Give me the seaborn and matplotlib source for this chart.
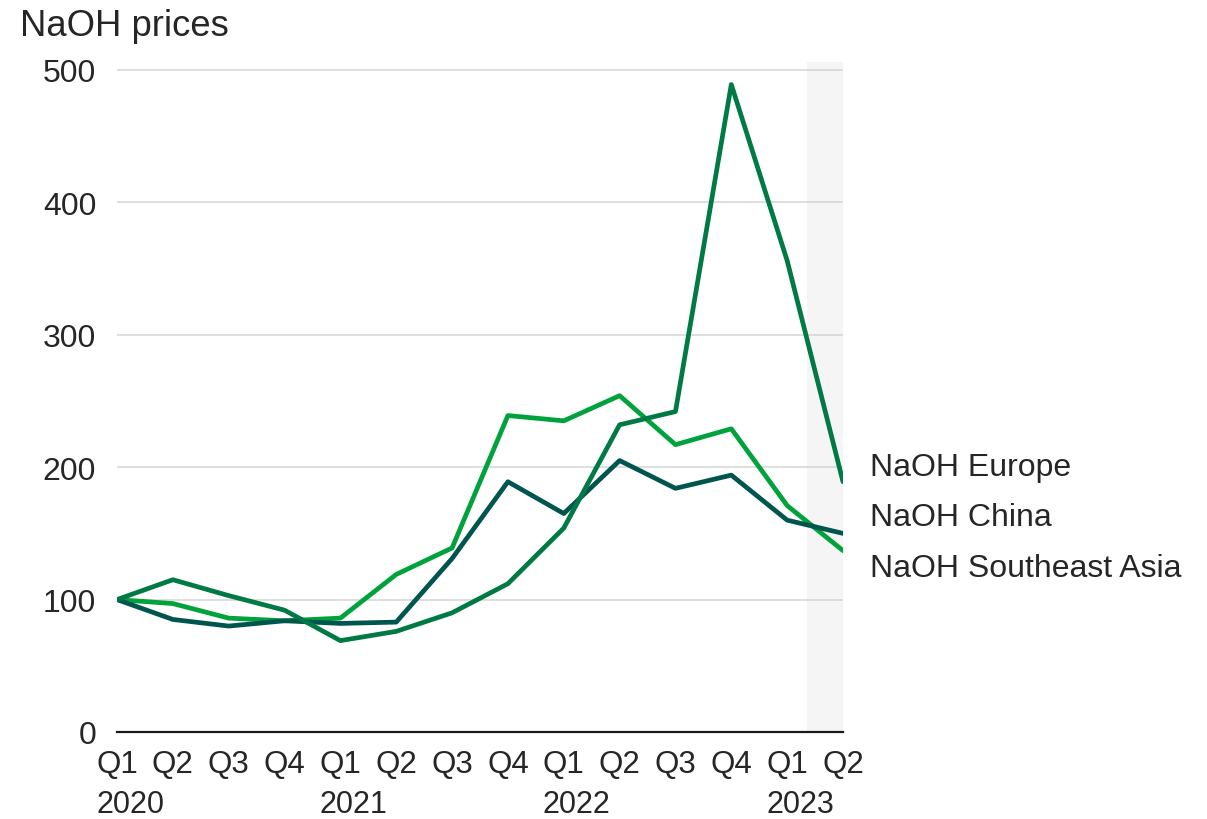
import matplotlib
matplotlib.use("Agg")
import matplotlib.pyplot as plt
import matplotlib.transforms as mtransforms
import numpy as np
import pandas as pd
import seaborn as sns

# Quarterly index values (Q1 2020 = 100)
quarters = ["Q1", "Q2", "Q3", "Q4", "Q1", "Q2", "Q3", "Q4",
            "Q1", "Q2", "Q3", "Q4", "Q1", "Q2"]
years = ["2020", "2021", "2022", "2023"]
europe = [100, 115, 103, 92, 69, 76, 90, 112, 154, 232, 242, 489, 356, 189]
southeast_asia = [100, 97, 86, 84, 86, 119, 139, 239, 235, 254, 217, 229, 171, 137]
china = [100, 85, 80, 84, 82, 83, 131, 189, 165, 205, 184, 194, 160, 150]

series_names = ["NaOH Southeast Asia", "NaOH China", "NaOH Europe"]
series_values = [southeast_asia, china, europe]
colors = {"NaOH Europe": "#007A44", "NaOH Southeast Asia": "#00A23C",
          "NaOH China": "#00554F"}

rows = []
for name, vals in zip(series_names, series_values):
    for i, v in enumerate(vals):
        rows.append({"idx": i, "value": v, "series": name})
df = pd.DataFrame(rows)

sns.set_theme(style="white")
plt.rcParams["font.family"] = ["Liberation Sans", "DejaVu Sans"]
text_color = "#262626"

fig = plt.figure(figsize=(12.07, 8.20), dpi=100)
ax = fig.add_axes([117 / 1207, 1 - 733 / 820, 726 / 1207, 670 / 820])

# Shaded latest-period band
ax.axvspan(12.35, 13, color="#F5F5F5", zorder=0, lw=0)

for y in [100, 200, 300, 400, 500]:
    ax.axhline(y, color="#D4D4D4", lw=1.1, zorder=1)

sns.lineplot(data=df, x="idx", y="value", hue="series", hue_order=series_names,
             palette=colors, linewidth=3.4, ax=ax, legend=False, zorder=3)

ax.set_xlim(0, 13)
ax.set_ylim(0, 506)
ax.set_xlabel("")
ax.set_ylabel("")
for side in ["top", "right", "left"]:
    ax.spines[side].set_visible(False)
ax.spines["bottom"].set_color("#1a1a1a")
ax.spines["bottom"].set_linewidth(1.6)
ax.spines["bottom"].set_zorder(4)

ax.set_yticks([0, 100, 200, 300, 400, 500])
ax.set_yticklabels(["0", "100", "200", "300", "400", "500"])
ax.tick_params(axis="y", length=0, pad=15, labelsize=23, labelcolor=text_color)
ax.set_xticks(range(len(quarters)))
ax.set_xticklabels(quarters)
ax.tick_params(axis="x", length=0, pad=12.5, labelsize=22.5, labelcolor=text_color)

# Year labels under each Q1, left-aligned with the quarter text
year_pos = [0, 4, 8, 12]
offset = mtransforms.ScaledTranslation(-21 / 100, 0, fig.dpi_scale_trans)
trans = mtransforms.blended_transform_factory(ax.transData, ax.transAxes) + offset
for x, yr in zip(year_pos, years):
    ax.text(x, -72 / 670, yr, transform=trans, ha="left", va="center",
            fontsize=22, color=text_color)

# Series labels at the right end
label_y = [200, 162, 124]
label_txt = ["NaOH Europe", "NaOH China", "NaOH Southeast Asia"]
for y, t in zip(label_y, label_txt):
    ax.annotate(t, xy=(13, y), xytext=(19.5, 0), textcoords="offset points",
                ha="left", va="center", fontsize=23, color=text_color,
                annotation_clip=False)

fig.text(20 / 1207, 1 - 27 / 820, "NaOH prices", ha="left", va="center",
         fontsize=26.3, color=text_color)

fig.savefig("out.png", dpi=100)
